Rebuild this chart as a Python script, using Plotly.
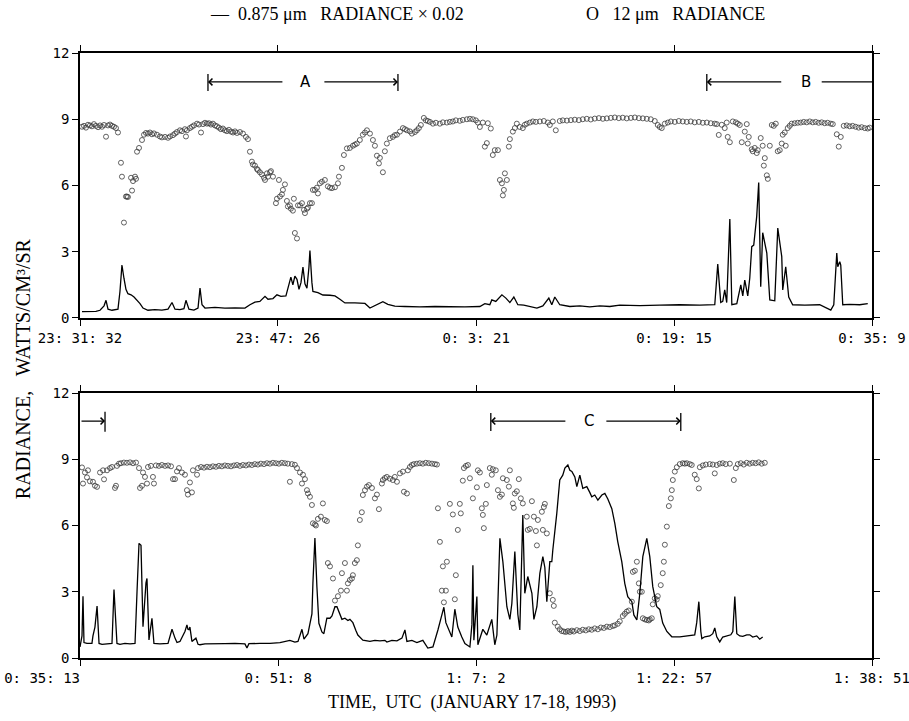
import plotly.graph_objects as go

# ---------------- DATA (time in minutes after panel start) ----------------
# Top panel: 23:31:32 -> 0:35:09 ; bottom panel: 0:35:13 -> 1:38:51
NB = "\u00a0"
top_ticks_min = [0, 15.90, 31.82, 47.72, 63.62]
top_tick_text = ["23: 31: 32", "23: 47: 26", "0: 3: 21", "0: 19: 15", "0: 35: 9"]
bot_ticks_min = [0, 15.92, 31.82, 47.73, 63.62]
bot_tick_text = ["0: 35: 13" + NB * 9, "0: 51: 8", "1: 7: 2", "1: 22: 57", "1: 38: 51"]
y_ticks = [0, 3, 6, 9, 12]

# 0.875 um radiance x 0.02, top panel
top_vis_t = [0.16,1.28,1.61,1.93,2.09,2.25,2.57,3.05,3.21,3.37,
             3.53,3.69,3.85,4.10,4.34,4.58,4.82,5.06,5.46,6.02,
             6.58,7.07,7.39,7.63,8.03,8.35,8.51,8.75,9.15,9.48,
             9.64,9.80,10.04,10.84,11.64,12.45,13.25,13.65,14.05,14.45,
             14.86,15.10,15.50,15.82,16.14,16.54,16.78,16.94,17.10,17.26,
             17.43,17.59,17.75,17.91,18.07,18.23,18.39,18.47,18.63,18.71,
             19.11,19.51,20.08,20.48,20.88,21.28,22.08,22.89,23.29,23.77,
             24.33,24.73,25.29,26.10,27.30,28.51,29.71,30.92,32.12,32.52,
             32.92,33.08,33.40,33.89,34.21,34.53,34.85,35.17,35.65,36.14,
             36.70,37.18,37.66,37.90,38.14,38.54,39.35,40.15,40.95,41.76,
             42.56,43.36,44.97,46.57,48.18,49.79,50.99,51.23,51.47,51.63,
             51.79,51.95,52.20,52.36,52.76,53.08,53.24,53.40,53.64,53.80,
             53.96,54.12,54.36,54.52,54.68,54.84,55.17,55.41,55.81,56.05,
             56.37,56.45,56.69,56.93,57.25,58.22,59.42,60.31,60.55,60.79,
             60.87,61.03,61.11,61.27,61.83,62.63,63.28]
top_vis_v = [0.29,0.30,0.35,0.55,0.80,0.40,0.35,0.40,1.20,2.40,
             1.80,1.30,1.10,1.05,0.95,0.80,0.65,0.45,0.35,0.38,
             0.36,0.40,0.70,0.40,0.38,0.42,0.80,0.40,0.36,0.45,
             1.35,0.60,0.45,0.48,0.45,0.46,0.45,0.60,0.72,0.75,
             0.98,0.85,0.88,1.05,0.98,1.00,1.45,1.85,1.50,1.90,
             1.75,1.30,1.60,2.30,1.55,1.35,2.30,3.05,1.60,1.20,
             1.15,1.04,1.03,1.00,0.85,0.68,0.68,0.66,0.45,0.58,
             0.74,0.62,0.54,0.52,0.50,0.52,0.50,0.50,0.52,0.65,
             0.60,0.82,0.75,1.05,0.90,0.70,0.95,0.60,0.58,0.52,
             0.45,0.55,0.90,0.60,0.95,0.60,0.52,0.55,0.50,0.55,
             0.52,0.58,0.56,0.58,0.60,0.58,0.60,2.44,0.70,0.75,
             1.27,0.70,4.48,0.60,0.65,1.50,1.00,1.72,1.00,1.80,
             3.23,3.30,4.60,6.13,1.42,3.86,2.94,0.82,0.78,4.07,
             2.78,1.27,2.32,0.95,0.60,0.58,0.60,0.36,0.60,2.94,
             2.32,2.55,2.40,0.60,0.62,0.60,0.65]

# 12 um radiance, top panel
top_ir_t = [0.16,0.32,0.48,0.64,0.80,0.96,1.12,1.28,1.45,1.61,
            1.77,1.93,2.09,2.25,2.41,2.57,2.73,2.89,3.05,3.29,
            3.37,3.53,3.69,3.77,3.85,4.10,4.18,4.26,4.42,4.50,
            4.58,4.74,4.98,5.14,5.30,5.46,5.62,5.78,5.94,6.18,
            6.42,6.58,6.83,7.07,7.23,7.47,7.63,7.79,8.03,8.19,
            8.43,8.51,8.59,8.83,8.99,9.15,9.40,9.56,9.72,9.88,
            10.04,10.20,10.36,10.52,10.68,10.84,11.00,11.16,11.32,11.48,
            11.64,11.80,11.96,12.13,12.29,12.45,12.61,12.85,13.09,13.33,
            13.49,13.65,13.81,13.89,14.05,14.21,14.29,14.45,14.61,14.78,
            14.86,15.02,15.10,15.26,15.34,15.50,15.74,15.82,15.98,16.06,
            16.22,16.30,16.46,16.62,16.70,16.86,16.94,17.10,17.18,17.26,
            17.43,17.51,17.67,17.83,17.99,18.07,18.23,18.31,18.47,18.63,
            18.71,18.87,19.03,19.11,19.27,19.43,19.67,19.91,20.08,20.24,
            20.48,20.72,20.80,21.04,21.20,21.44,21.68,21.92,22.08,22.24,
            22.48,22.72,22.89,23.05,23.29,23.53,23.69,23.85,24.01,24.09,
            24.33,24.49,24.65,24.89,25.13,25.29,25.46,25.70,25.94,26.10,
            26.26,26.50,26.66,26.90,27.06,27.22,27.38,27.62,27.78,27.94,
            28.11,28.35,28.59,28.91,29.15,29.47,29.71,29.95,30.19,30.51,
            30.75,31.08,31.32,31.56,31.80,31.96,32.12,32.36,32.52,32.68,
            32.76,33.00,33.16,33.32,33.57,33.73,33.89,33.97,34.05,34.13,
            34.29,34.45,34.53,34.77,34.93,35.09,35.33,35.57,35.73,35.89,
            36.14,36.38,36.62,36.94,37.26,37.58,37.74,37.98,38.22,38.54,
            38.78,39.11,39.43,39.75,40.07,40.39,40.71,41.03,41.35,41.68,
            42.00,42.32,42.64,42.96,43.28,43.60,43.92,44.25,44.57,44.89,
            45.21,45.53,45.85,46.17,46.41,46.57,46.73,46.98,47.22,47.46,
            47.78,48.10,48.42,48.74,49.06,49.38,49.71,50.03,50.35,50.67,
            50.99,51.15,51.31,51.55,51.79,51.95,52.03,52.20,52.44,52.68,
            52.84,53.00,53.16,53.40,53.56,53.64,53.72,53.96,54.04,54.20,
            54.36,54.44,54.68,54.84,54.93,55.01,55.17,55.25,55.41,55.57,
            55.73,55.89,56.05,56.21,56.37,56.45,56.61,56.69,56.85,57.01,
            57.17,57.41,57.66,57.90,58.14,58.38,58.62,58.86,59.10,59.34,
            59.58,59.82,60.06,60.31,60.47,60.79,60.95,61.11,61.35,61.59,
            61.83,62.07,62.31,62.55,62.79,63.04,63.28,63.44]
top_ir_v = [8.66,8.70,8.62,8.75,8.72,8.68,8.78,8.70,8.64,8.72,
            8.66,8.74,8.21,8.72,8.76,8.70,8.66,8.60,8.40,7.03,
            6.40,4.32,5.50,5.50,5.48,6.35,5.77,6.20,6.40,6.30,
            7.53,7.70,8.06,8.30,8.38,8.35,8.40,8.32,8.36,8.30,
            8.22,8.18,8.20,8.16,8.22,8.28,8.35,8.42,8.50,8.46,
            8.55,8.22,8.50,8.60,8.66,8.72,8.80,8.76,8.40,8.78,
            8.84,8.80,8.82,8.76,8.80,8.72,8.68,8.62,8.55,8.58,
            8.50,8.46,8.52,8.44,8.40,8.45,8.38,8.42,8.35,8.20,
            8.10,7.53,7.08,6.95,6.90,6.75,6.70,6.60,6.50,6.35,
            6.25,6.55,6.40,6.60,6.65,6.40,5.20,5.40,6.25,5.50,
            5.60,5.80,6.05,5.30,5.05,5.10,4.95,4.86,5.40,3.85,
            3.60,5.10,5.10,5.20,4.90,4.75,4.95,5.00,5.20,5.20,
            5.80,5.80,5.90,5.64,6.10,6.17,6.25,5.96,5.90,5.88,
            5.92,6.10,6.40,6.80,7.38,7.68,7.70,7.80,7.85,7.90,
            8.06,8.30,8.40,8.50,8.35,8.06,7.80,7.35,7.00,7.25,
            6.60,7.55,7.90,8.14,8.20,8.28,8.30,8.44,8.60,8.55,
            8.50,8.45,8.35,8.42,8.50,8.60,8.74,9.06,8.95,8.92,
            8.88,8.80,8.84,8.80,8.86,8.85,8.88,8.90,8.95,8.93,
            8.97,9.00,9.02,9.00,8.95,8.85,8.65,8.85,7.76,7.92,
            8.82,8.58,7.38,7.60,7.60,6.25,6.10,5.55,5.80,6.55,
            6.25,7.76,8.10,8.44,8.60,8.80,8.65,8.60,8.75,8.80,
            8.85,8.90,8.88,8.90,8.92,8.85,8.74,8.90,8.50,8.92,
            8.95,8.94,8.96,8.98,8.96,9.00,9.02,8.99,9.03,9.05,
            9.02,9.04,9.06,9.08,9.05,9.07,9.04,9.06,9.08,9.05,
            9.04,9.02,9.00,8.92,8.74,8.65,8.60,8.80,8.85,8.90,
            8.88,8.92,8.90,8.88,8.90,8.86,8.88,8.84,8.85,8.82,
            8.80,8.78,8.29,8.75,8.60,8.85,8.20,7.96,8.90,8.86,
            8.80,8.74,7.96,8.44,8.78,7.90,8.20,7.64,7.55,7.70,
            7.47,7.60,8.15,7.80,6.90,7.24,6.46,6.30,7.80,8.74,
            8.70,8.80,7.55,7.60,7.90,8.30,8.40,7.80,8.60,8.70,
            8.80,8.82,8.84,8.85,8.88,8.86,8.90,8.86,8.88,8.84,
            8.86,8.82,8.84,8.80,8.78,8.32,7.76,8.20,8.70,8.72,
            8.68,8.70,8.66,8.62,8.64,8.60,8.58,8.62]

# 0.875 um radiance x 0.02, bottom panel
bot_vis_t = [0.00,0.16,0.24,0.32,0.56,0.96,1.04,1.20,1.37,1.53,
             1.77,2.25,2.57,2.73,2.97,3.21,3.61,4.02,4.42,4.58,
             4.74,4.90,5.06,5.30,5.38,5.54,5.78,5.94,6.42,7.07,
             7.39,7.63,7.79,8.03,8.43,8.59,8.67,8.75,8.83,8.99,
             9.31,9.48,9.64,10.04,10.84,11.64,12.45,13.25,13.41,13.57,
             14.45,15.26,16.06,16.46,16.86,17.26,17.51,17.83,17.99,18.31,
             18.47,18.63,18.71,18.87,19.03,19.19,19.43,19.59,19.83,20.08,
             20.24,20.48,20.64,20.88,21.04,21.28,21.52,21.68,21.92,22.16,
             22.32,22.72,23.29,23.69,24.09,24.49,24.65,25.05,25.46,25.86,
             26.10,26.26,26.66,27.06,27.54,27.94,28.35,28.75,29.07,29.23,
             29.39,29.55,29.87,30.11,30.35,30.67,30.92,31.32,31.48,31.56,
             31.64,31.88,31.96,32.36,32.68,33.08,33.32,33.49,33.73,33.97,
             34.29,34.53,34.69,34.93,35.17,35.33,35.57,35.73,35.97,36.30,
             36.46,36.70,36.94,37.18,37.34,37.50,37.74,37.90,37.98,38.30,
             38.54,38.78,38.95,39.19,39.35,39.51,39.75,39.91,40.15,40.39,
             40.71,40.95,41.11,41.35,41.60,41.92,42.16,42.40,42.72,42.96,
             43.20,43.52,43.76,44.00,44.33,44.49,44.73,44.97,45.21,45.53,
             45.77,46.01,46.33,46.57,46.81,47.14,47.54,48.18,48.74,49.38,
             49.54,49.71,49.87,49.95,50.19,50.59,50.83,50.99,51.15,51.39,
             51.63,51.95,52.28,52.44,52.60,52.76,53.00,53.24,53.56,53.80,
             54.04,54.36,54.60,54.84]
bot_vis_v = [0.50,1.00,2.80,0.70,0.66,0.66,1.00,1.40,2.35,0.66,
             0.62,0.66,0.66,3.10,0.66,0.62,0.66,0.64,0.66,3.00,
             5.19,5.10,1.42,3.40,3.60,0.82,1.80,0.66,0.64,0.66,
             1.30,0.90,0.70,0.75,1.20,1.50,1.30,1.28,1.40,0.75,
             0.90,0.62,0.60,0.64,0.66,0.65,0.66,0.64,0.45,0.65,
             0.66,0.66,0.70,0.75,0.80,0.72,0.75,1.30,0.85,1.10,
             1.50,2.00,3.40,5.43,3.23,1.57,1.18,1.10,1.80,1.80,
             1.90,2.32,2.32,2.00,1.75,1.80,1.70,1.75,1.60,1.25,
             1.04,0.81,0.75,0.80,0.78,0.80,0.72,0.80,0.78,0.90,
             1.27,0.75,0.80,0.70,0.80,0.45,0.50,1.27,1.90,2.30,
             1.60,1.40,0.95,2.21,1.40,0.95,0.65,0.50,1.50,4.20,
             0.80,2.78,0.60,1.30,1.04,1.75,0.60,1.04,5.42,4.35,
             2.32,1.75,2.47,4.82,1.98,1.27,6.47,2.93,3.69,2.93,
             1.75,2.32,3.83,4.59,4.10,2.55,4.36,4.36,4.89,6.55,
             8.06,8.28,8.60,8.74,8.50,8.45,8.20,7.76,8.28,7.68,
             7.76,7.50,7.30,7.38,7.15,7.38,7.45,7.20,6.76,6.10,
             5.26,4.36,3.38,2.78,2.55,1.95,1.72,2.93,4.59,5.42,
             4.59,3.23,2.32,2.20,1.58,1.20,0.96,0.96,1.00,1.05,
             1.60,2.55,1.20,0.88,0.96,1.00,1.10,1.36,0.96,0.73,
             0.95,1.00,1.05,1.20,2.78,1.10,1.00,0.98,1.05,1.05,
             0.95,1.00,0.85,0.95]

# 12 um radiance, bottom panel
bot_ir_t = [0.16,0.24,0.40,0.56,0.64,0.80,1.04,1.20,1.37,1.61,
            1.85,1.93,2.17,2.41,2.57,2.81,2.89,2.97,3.13,3.29,
            3.53,3.77,4.02,4.26,4.50,4.74,4.82,4.98,5.06,5.22,
            5.38,5.46,5.70,5.86,5.94,6.10,6.34,6.58,6.83,7.07,
            7.31,7.47,7.63,7.79,7.95,8.19,8.43,8.59,8.67,8.83,
            8.99,9.07,9.40,9.48,9.72,9.96,10.20,10.44,10.68,10.92,
            11.16,11.40,11.64,11.88,12.13,12.37,12.61,12.85,13.09,13.33,
            13.57,13.81,14.05,14.29,14.53,14.78,15.02,15.26,15.50,15.74,
            15.98,16.22,16.46,16.70,16.86,17.02,17.26,17.43,17.67,17.83,
            17.91,18.07,18.23,18.31,18.47,18.63,18.71,18.87,18.95,19.11,
            19.35,19.51,19.67,19.83,19.91,20.08,20.32,20.48,20.72,20.96,
            21.04,21.28,21.44,21.52,21.68,21.84,21.92,22.08,22.24,22.32,
            22.48,22.64,22.72,22.89,23.05,23.21,23.45,23.69,23.85,24.01,
            24.25,24.33,24.49,24.65,24.89,25.13,25.29,25.46,25.70,25.94,
            26.02,26.26,26.34,26.50,26.66,26.82,27.06,27.30,27.54,27.78,
            28.02,28.27,28.51,28.67,28.75,28.91,29.07,29.15,29.23,29.39,
            29.47,29.71,29.95,30.11,30.19,30.35,30.51,30.59,30.75,30.84,
            31.00,31.16,31.32,31.56,31.88,31.96,32.12,32.28,32.36,32.44,
            32.60,32.68,32.92,33.08,33.16,33.40,33.57,33.73,33.89,33.97,
            34.29,34.45,34.53,34.77,34.85,34.93,35.09,35.25,35.41,35.57,
            35.89,35.97,36.14,36.30,36.46,36.62,36.70,36.78,37.10,37.18,
            37.26,37.34,37.50,37.74,37.98,38.06,38.14,38.38,38.54,38.70,
            38.87,39.03,39.19,39.35,39.51,39.67,39.91,40.15,40.39,40.63,
            40.87,41.11,41.35,41.60,41.84,42.08,42.32,42.56,42.80,42.96,
            43.20,43.36,43.60,43.76,43.92,44.08,44.33,44.41,44.57,44.73,
            44.89,44.97,45.13,45.21,45.37,45.53,45.69,45.77,45.93,46.01,
            46.17,46.33,46.41,46.65,46.81,46.90,46.98,47.14,47.30,47.46,
            47.54,47.62,47.78,47.94,48.18,48.42,48.58,48.74,48.98,49.14,
            49.38,49.54,49.71,49.79,50.03,50.27,50.59,50.83,50.99,51.15,
            51.39,51.63,51.87,52.20,52.52,52.68,52.84,53.08,53.32,53.56,
            53.80,54.04,54.28,54.52,54.76,55.01]
bot_ir_v = [8.63,7.90,8.40,8.18,8.50,8.00,7.98,7.80,7.75,8.40,
            8.50,8.09,8.50,8.60,8.65,7.70,7.80,8.70,8.80,8.82,
            8.85,8.84,8.86,8.82,8.85,8.60,7.70,7.80,8.40,8.20,
            7.90,8.65,8.70,8.20,7.90,8.72,8.70,8.74,8.70,8.72,
            8.68,8.10,8.10,8.45,8.60,8.40,8.30,7.60,7.40,7.95,
            7.50,8.50,8.30,8.60,8.65,8.62,8.66,8.64,8.68,8.66,
            8.70,8.68,8.72,8.70,8.68,8.72,8.74,8.70,8.74,8.72,
            8.76,8.74,8.78,8.76,8.80,8.78,8.82,8.80,8.84,8.82,
            8.80,8.84,8.82,8.80,7.98,8.78,8.75,8.60,8.40,7.90,
            8.30,8.10,7.60,7.45,7.30,6.93,6.10,6.05,6.00,6.30,
            6.40,7.00,6.25,6.20,4.30,4.15,3.60,2.60,2.80,3.05,
            3.84,4.30,3.05,3.38,3.53,3.60,3.75,4.30,4.43,5.10,
            6.25,6.60,7.38,7.60,7.76,7.83,7.70,7.23,7.40,6.74,
            7.90,8.06,8.15,8.20,8.12,8.06,8.20,7.98,8.36,8.44,
            7.53,7.45,8.50,8.65,8.74,8.78,8.80,8.82,8.80,8.84,
            8.82,8.80,8.78,8.76,6.78,5.26,3.05,4.15,2.52,3.05,
            4.36,6.98,6.50,2.66,3.75,5.80,6.98,6.55,8.03,8.60,
            8.70,8.74,8.14,7.23,7.73,8.50,8.40,6.78,6.48,5.88,
            6.98,7.83,8.60,8.30,8.55,8.50,7.60,7.30,7.40,8.14,
            8.06,7.76,8.50,7.00,6.80,7.45,7.55,8.10,7.23,7.00,
            6.40,5.80,5.85,7.10,6.40,5.75,5.10,6.25,6.62,5.80,
            6.84,6.98,5.64,2.93,2.63,2.36,1.60,1.42,1.30,1.22,
            1.20,1.18,1.22,1.18,1.24,1.20,1.26,1.22,1.28,1.25,
            1.30,1.28,1.34,1.30,1.38,1.36,1.42,1.40,1.45,1.48,
            1.55,1.66,1.90,2.00,2.10,2.15,2.55,3.90,3.95,4.36,
            3.38,3.00,3.00,1.80,1.75,1.72,1.70,1.75,1.80,2.43,
            2.70,2.65,2.80,3.30,3.84,4.36,5.13,5.95,6.88,7.23,
            7.60,8.06,8.44,8.64,8.78,8.82,8.80,8.82,8.78,8.74,
            8.30,8.10,7.68,8.64,8.72,8.76,8.78,8.76,8.36,8.74,
            8.80,8.82,8.78,8.80,8.06,8.60,8.78,8.82,8.76,8.84,
            8.80,8.84,8.82,8.86,8.80,8.84]

assert len(top_vis_t) == len(top_vis_v)
assert len(top_ir_t) == len(top_ir_v)
assert len(bot_vis_t) == len(bot_vis_v)
assert len(bot_ir_t) == len(bot_ir_v)

# ---------------- FIGURE ----------------
BLACK = "black"
TICK_FONT = dict(family="DejaVu Sans Mono", size=14, color=BLACK)
SERIF = "Liberation Serif"

fig = go.Figure()
circ = dict(symbol="circle-open", size=5, color="#3a3a3a", line=dict(width=0.8))
vis_line = dict(color=BLACK, width=1.3)

fig.add_trace(go.Scatter(x=top_ir_t, y=top_ir_v, mode="markers", marker=circ,
                         xaxis="x", yaxis="y", name="12 μm radiance"))
fig.add_trace(go.Scatter(x=top_vis_t, y=top_vis_v, mode="lines", line=vis_line,
                         xaxis="x", yaxis="y", name="0.875 μm radiance × 0.02"))
fig.add_trace(go.Scatter(x=bot_ir_t, y=bot_ir_v, mode="markers", marker=circ,
                         xaxis="x2", yaxis="y2", name="12 μm radiance"))
fig.add_trace(go.Scatter(x=bot_vis_t, y=bot_vis_v, mode="lines", line=vis_line,
                         xaxis="x2", yaxis="y2", name="0.875 μm radiance × 0.02"))

def xax(anchor, rng, tv, tt):
    return dict(anchor=anchor, domain=[0, 1], range=rng, tickmode="array",
                tickvals=tv, ticktext=tt, ticks="outside", ticklen=6, tickwidth=1.2,
                tickcolor=BLACK, showline=True, linecolor=BLACK, linewidth=1.6,
                mirror="ticks", showgrid=False, zeroline=False, tickfont=TICK_FONT,
                automargin=False, ticklabeloverflow="allow")

def yax(anchor, dom):
    return dict(anchor=anchor, domain=dom, range=[0, 12], tickmode="array",
                tickvals=y_ticks, ticktext=[str(v) for v in y_ticks], ticks="outside",
                ticklen=6, tickwidth=1.2, tickcolor=BLACK, showline=True,
                linecolor=BLACK, linewidth=1.6, mirror="ticks", showgrid=False,
                zeroline=False, tickfont=TICK_FONT, automargin=False)

annotations = []
shapes = []

def bar(xr, yr, x, y0, y1):
    shapes.append(dict(type="line", xref=xr, yref=yr, x0=x, x1=x, y0=y0, y1=y1,
                       line=dict(color=BLACK, width=1.3)))

def arrow(xr, yr, x_head, x_tail, y):
    annotations.append(dict(xref=xr, yref=yr, axref=xr, ayref=yr, x=x_head, y=y,
                            ax=x_tail, ay=y, text="", showarrow=True, arrowhead=4,
                            arrowsize=1.1, arrowwidth=1.2, arrowcolor=BLACK))

def label(xr, yr, x, y, t):
    annotations.append(dict(xref=xr, yref=yr, x=x, y=y, text=t, showarrow=False,
                            xanchor="center", yanchor="middle",
                            font=dict(family="DejaVu Sans", size=15, color=BLACK)))

# Period A (top)
bar("x", "y", 10.28, 10.28, 11.05)
arrow("x", "y", 10.28, 16.38, 10.69)
label("x", "y", 18.15, 10.69, "A")
arrow("x", "y", 25.54, 19.51, 10.69)
bar("x", "y", 25.54, 10.28, 11.05)
# Period B (top, continues into bottom)
bar("x", "y", 50.35, 10.28, 11.05)
arrow("x", "y", 50.35, 56.45, 10.69)
label("x", "y", 58.30, 10.69, "B")
shapes.append(dict(type="line", xref="x", yref="y", x0=59.58, x1=63.62, y0=10.69, y1=10.69,
                   line=dict(color=BLACK, width=1.3)))
# end of B (bottom)
arrow("x2", "y2", 2.01, 0.0, 10.73)
bar("x2", "y2", 2.01, 10.25, 11.15)
# Period C (bottom)
bar("x2", "y2", 33.00, 10.28, 11.10)
arrow("x2", "y2", 33.00, 39.11, 10.73)
label("x2", "y2", 40.87, 10.73, "C")
arrow("x2", "y2", 48.26, 42.16, 10.73)
bar("x2", "y2", 48.26, 10.28, 11.10)

def paper_text(x, y, t, size, angle=0):
    annotations.append(dict(xref="paper", yref="paper", x=x, y=y, text=t,
                            showarrow=False, xanchor="center", yanchor="middle",
                            textangle=angle,
                            font=dict(family=SERIF, size=size, color=BLACK)))

# Legend texts
paper_text(0.325, 1.065, "—  0.875 μm   RADIANCE × 0.02", 18)
paper_text(0.752, 1.065, "O   12 μm   RADIANCE", 18)
# Axis titles
paper_text(0.495, -0.074, "TIME,  UTC  (JANUARY 17-18, 1993)", 18)
paper_text(-0.072, 0.479, "RADIANCE,   WATTS/CM³/SR", 20, angle=-90)

fig.update_layout(
    width=909, height=721,
    margin=dict(l=80, r=37, t=53, b=63),
    paper_bgcolor="white", plot_bgcolor="white",
    showlegend=False,
    xaxis=xax("y", [0, 63.62], top_ticks_min, top_tick_text),
    yaxis=yax("x", [0.562, 1.0]),
    xaxis2=xax("y2", [0, 63.62], bot_ticks_min, bot_tick_text),
    yaxis2=yax("x2", [0.0, 0.438]),
    annotations=annotations,
    shapes=shapes,
)

fig.write_html("out.html")
